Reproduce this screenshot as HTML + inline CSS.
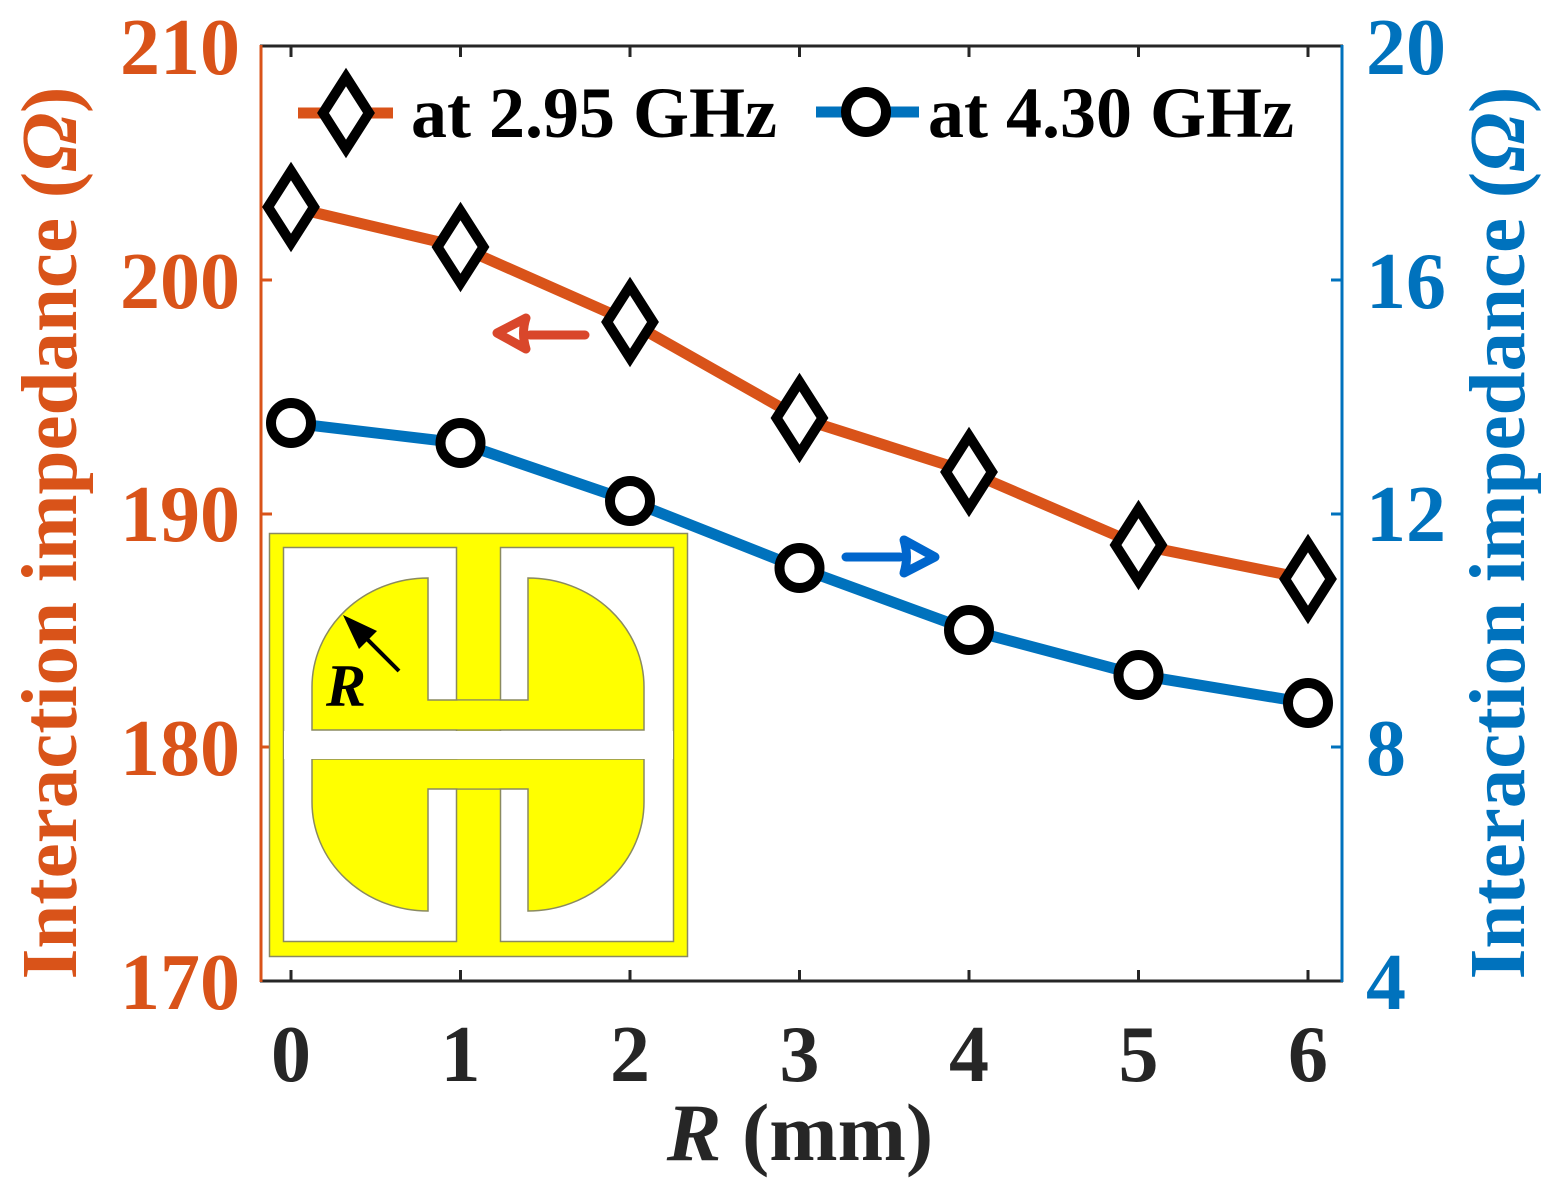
<!DOCTYPE html>
<html><head><meta charset="utf-8"><style>
html,body{margin:0;padding:0;background:#fff;}
svg{display:block;}
text{font-family:"Liberation Serif","Times New Roman",serif;font-weight:bold;}
</style></head><body>
<svg width="1562" height="1189" viewBox="0 0 1562 1189" xmlns="http://www.w3.org/2000/svg">
<line x1="260" y1="46" x2="1343" y2="46" stroke="#262626" stroke-width="3"/>
<line x1="260" y1="981" x2="1343" y2="981" stroke="#262626" stroke-width="3"/>
<line x1="261" y1="45" x2="261" y2="982" stroke="#D95319" stroke-width="3"/>
<line x1="1342" y1="45" x2="1342" y2="982" stroke="#0072BD" stroke-width="3"/>
<g stroke="#262626" stroke-width="3">
<line x1="291" y1="46" x2="291" y2="57"/><line x1="460.5" y1="46" x2="460.5" y2="57"/><line x1="630" y1="46" x2="630" y2="57"/><line x1="799.5" y1="46" x2="799.5" y2="57"/><line x1="969" y1="46" x2="969" y2="57"/><line x1="1138.5" y1="46" x2="1138.5" y2="57"/><line x1="1308" y1="46" x2="1308" y2="57"/>
<line x1="291" y1="981" x2="291" y2="970"/><line x1="460.5" y1="981" x2="460.5" y2="970"/><line x1="630" y1="981" x2="630" y2="970"/><line x1="799.5" y1="981" x2="799.5" y2="970"/><line x1="969" y1="981" x2="969" y2="970"/><line x1="1138.5" y1="981" x2="1138.5" y2="970"/><line x1="1308" y1="981" x2="1308" y2="970"/>
</g>
<g stroke="#D95319" stroke-width="3">
<line x1="261" y1="280" x2="272" y2="280"/><line x1="261" y1="514" x2="272" y2="514"/><line x1="261" y1="747" x2="272" y2="747"/>
</g>
<g stroke="#0072BD" stroke-width="3">
<line x1="1342" y1="280" x2="1331" y2="280"/><line x1="1342" y1="514" x2="1331" y2="514"/><line x1="1342" y1="747" x2="1331" y2="747"/>
</g>
<g fill="#D95319" font-size="80" text-anchor="end">
<text x="240" y="74">210</text><text x="240" y="308">200</text><text x="240" y="541">190</text><text x="240" y="775">180</text><text x="240" y="1009">170</text>
</g>
<g fill="#0072BD" font-size="80" text-anchor="start">
<text x="1366" y="74">20</text><text x="1366" y="308">16</text><text x="1366" y="541">12</text><text x="1366" y="775">8</text><text x="1366" y="1009">4</text>
</g>
<g fill="#262626" font-size="80" text-anchor="middle">
<text x="291" y="1081">0</text><text x="460.5" y="1081">1</text><text x="630" y="1081">2</text><text x="799.5" y="1081">3</text><text x="969" y="1081">4</text><text x="1138.5" y="1081">5</text><text x="1308" y="1081">6</text>
</g>
<text x="800" y="1160" font-size="82" fill="#262626" text-anchor="middle"><tspan font-style="italic">R</tspan> (mm)</text>
<text transform="translate(76,533) rotate(-90)" font-size="79" fill="#D95319" text-anchor="middle">Interaction impedance (<tspan font-style="italic">Ω</tspan>)</text>
<text transform="translate(1524,533) rotate(-90)" font-size="79" fill="#0072BD" text-anchor="middle">Interaction impedance (<tspan font-style="italic">Ω</tspan>)</text>

<rect x="269.5" y="533.5" width="418" height="423" fill="#ffff00" stroke="#8a8a60" stroke-width="1.5"/>
<rect x="283.5" y="547.5" width="173" height="394" fill="#fff" stroke="#8a8a60" stroke-width="1.5"/>
<rect x="500.5" y="547.5" width="173" height="394" fill="#fff" stroke="#8a8a60" stroke-width="1.5"/>
<rect x="457.5" y="549" width="42" height="391" fill="#ffff00"/>
<path d="M312,730 L312,687 A116,109 0 0 1 428,578 L428,700 L528,700 L528,578 A116,109 0 0 1 644,687 L644,730 Z" fill="#ffff00" stroke="#8a8a60" stroke-width="1.5"/>
<path d="M312,759 L312,802 A116,109 0 0 0 428,911 L428,789 L528,789 L528,911 A116,109 0 0 0 644,802 L644,759 Z" fill="#ffff00" stroke="#8a8a60" stroke-width="1.5"/>
<rect x="457.5" y="700.7" width="42" height="28.5" fill="#ffff00"/>
<rect x="457.5" y="759.8" width="42" height="28.5" fill="#ffff00"/>
<rect x="284" y="731" width="389" height="28" fill="#fff"/>
<line x1="399" y1="671" x2="355" y2="627" stroke="#000" stroke-width="4"/>
<polygon points="343,615 377,631 359,649" fill="#000"/>
<text x="326" y="706" font-size="60" font-style="italic" fill="#000">R</text>

<g fill="none" stroke="#D9472B" stroke-width="9" stroke-linecap="round" stroke-linejoin="round">
<line x1="585" y1="335" x2="530" y2="335"/>
<path d="M526,318 L497,333 L526,349 Q521,333 526,318 Z"/>
</g>
<g fill="none" stroke="#0066CC" stroke-width="9" stroke-linecap="round" stroke-linejoin="round">
<line x1="846" y1="557" x2="900" y2="557"/>
<path d="M904,540 L935,557 L904,573 Q909,557 904,540 Z"/>
</g>

<polyline points="291,207 460.5,247 630,322 799.5,418 969,472 1138.5,545 1308,579" fill="none" stroke="#D95319" stroke-width="11" stroke-linejoin="round"/>
<polyline points="291,423 460.5,443 630,501 799.5,568 969,630 1138.5,675 1308,703" fill="none" stroke="#0072BD" stroke-width="11" stroke-linejoin="round"/>
<g fill="#fff" stroke="#000" stroke-width="10">
<path d="M291,171 L314,207 L291,243 L268,207 Z"/>
<path d="M460.5,211 L483.5,247 L460.5,283 L437.5,247 Z"/>
<path d="M630,286 L653,322 L630,358 L607,322 Z"/>
<path d="M799.5,382 L822.5,418 L799.5,454 L776.5,418 Z"/>
<path d="M969,436 L992,472 L969,508 L946,472 Z"/>
<path d="M1138.5,509 L1161.5,545 L1138.5,581 L1115.5,545 Z"/>
<path d="M1308,543 L1331,579 L1308,615 L1285,579 Z"/>
<circle cx="291" cy="423" r="20"/><circle cx="460.5" cy="443" r="20"/><circle cx="630" cy="501" r="20"/><circle cx="799.5" cy="568" r="20"/><circle cx="969" cy="630" r="20"/><circle cx="1138.5" cy="675" r="20"/><circle cx="1308" cy="703" r="20"/>
</g>

<line x1="298" y1="113" x2="393" y2="113" stroke="#D95319" stroke-width="11"/>
<path d="M346,77 L369,113 L346,149 L323,113 Z" fill="#fff" stroke="#000" stroke-width="10"/>
<text x="411" y="137" font-size="72" fill="#000">at 2.95 GHz</text>
<line x1="816" y1="112" x2="919" y2="112" stroke="#0072BD" stroke-width="11"/>
<circle cx="866" cy="112" r="20" fill="#fff" stroke="#000" stroke-width="10"/>
<text x="928" y="137" font-size="72" fill="#000">at 4.30 GHz</text>
</svg>
</body></html>
